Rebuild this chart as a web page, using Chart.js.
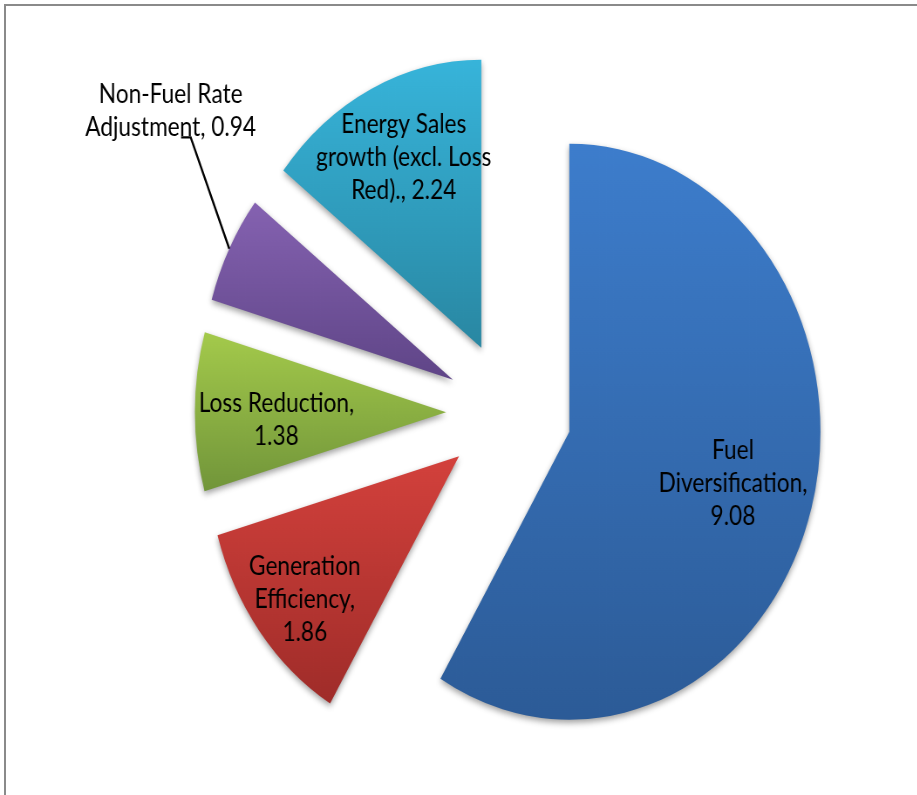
<!DOCTYPE html>
<html>
<head>
<meta charset="utf-8">
<script src="https://cdn.jsdelivr.net/npm/chart.js@4.4.0/dist/chart.umd.min.js"></script>
<style>
  html, body { margin: 0; padding: 0; background: #fff; overflow: hidden; }
  #frame {
    position: absolute; left: 4px; top: 4px; width: 960px; height: 830px;
    border-top: 2px solid #8a8a8a; border-left: 2px solid #8a8a8a;
  }
  /* the source picture is squeezed horizontally, so squeeze the canvas the same way */
  #wrap {
    position: absolute; left: 0; top: 0; width: 1052px; height: 795px;
    transform: scaleX(0.872); transform-origin: 0 0;
  }
  canvas { display: block; }
</style>
</head>
<body>
<div id="frame"></div>
<div id="wrap"><canvas id="chart" width="1052" height="795"></canvas></div>
<script>
const categories = [
  "Fuel Diversification",
  "Generation Efficiency",
  "Loss Reduction",
  "Non-Fuel Rate Adjustment",
  "Energy Sales growth (excl. Loss Red).",
];
const values = [9.08, 1.86, 1.38, 0.94, 2.24];

// Excel 2007 style gradients, top -> bottom of each slice
const topColors = ["#3d7dcc", "#d3413c", "#a4ca4b", "#8562b1", "#37b4da"];
const bottomColors = ["#2c5b97", "#9f2c29", "#71953a", "#5f4587", "#2987a2"];

const EXPLODE = 72;
const FONT = "26px Lato";
const LINE_HEIGHT = 33;

// label placement: distance (fraction of radius), turn from mid angle (deg), wrap width
const labelPlace = [
  { k: 0.676, turn: 0, width: 185 },
  { k: 0.79, turn: -1.5, width: 145 },
  { k: 0.676, turn: -2.5, width: 200 },
  { k: 1.46, turn: 12.6, width: 210, leader: true },
  { k: 0.73, turn: 1, width: 210 },
];

function wrapText(ctx, text, maxWidth) {
  const words = text.split(" ");
  const lines = [];
  let line = "";
  words.forEach((w) => {
    const test = line ? line + " " + w : w;
    if (line && ctx.measureText(test).width > maxWidth) {
      lines.push(line);
      line = w;
    } else {
      line = test;
    }
  });
  if (line) lines.push(line);
  return lines;
}

const explodePlugin = {
  id: "explode",
  afterDatasetsUpdate(chart) {
    const ctx = chart.ctx;
    chart.getDatasetMeta(0).data.forEach((arc, i) => {
      const mid = (arc.startAngle + arc.endAngle) / 2;
      arc.x += Math.cos(mid) * EXPLODE;
      arc.y += Math.sin(mid) * EXPLODE;

      // vertical extent of this slice for its gradient
      let top = arc.y;
      let bottom = arc.y;
      for (let t = 0; t <= 64; t++) {
        const a = arc.startAngle + ((arc.endAngle - arc.startAngle) * t) / 64;
        const y = arc.y + Math.sin(a) * arc.outerRadius;
        top = Math.min(top, y);
        bottom = Math.max(bottom, y);
      }
      const grad = ctx.createLinearGradient(0, top, 0, bottom);
      grad.addColorStop(0, topColors[i]);
      grad.addColorStop(1, bottomColors[i]);
      arc.options = Object.assign({}, arc.options, { backgroundColor: grad });
    });
  },
  beforeDatasetsDraw(chart) {
    const ctx = chart.ctx;
    ctx.save();
    ctx.shadowColor = "rgba(0, 0, 0, 0.38)";
    ctx.shadowBlur = 6;
    ctx.shadowOffsetY = 3;
  },
  afterDatasetsDraw(chart) {
    const ctx = chart.ctx;
    ctx.restore();

    ctx.save();
    ctx.font = FONT;
    ctx.fillStyle = "#000";
    ctx.textAlign = "center";
    ctx.textBaseline = "middle";
    chart.getDatasetMeta(0).data.forEach((arc, i) => {
      const place = labelPlace[i];
      const mid = (arc.startAngle + arc.endAngle) / 2;
      const ang = mid + (place.turn * Math.PI) / 180;
      const lx = arc.x + Math.cos(ang) * arc.outerRadius * place.k;
      const ly = arc.y + Math.sin(ang) * arc.outerRadius * place.k;

      const text = categories[i] + ", " + values[i].toFixed(2);
      const lines = wrapText(ctx, text, place.width);
      lines.forEach((line, j) => {
        ctx.fillText(line, lx, ly + (j - (lines.length - 1) / 2) * LINE_HEIGHT);
      });

      if (place.leader) {
        const ex = arc.x + Math.cos(mid) * arc.outerRadius;
        const ey = arc.y + Math.sin(mid) * arc.outerRadius;
        ctx.beginPath();
        ctx.strokeStyle = "#000";
        ctx.lineWidth = 2.4;
        ctx.moveTo(lx + 12, ly + 26);
        ctx.lineTo(lx + 23, ly + 26);
        ctx.lineTo(ex, ey);
        ctx.stroke();
      }
    });
    ctx.restore();
  },
};

new Chart(document.getElementById("chart"), {
  type: "pie",
  data: {
    labels: categories,
    datasets: [
      {
        data: values,
        backgroundColor: topColors,
        borderWidth: 0,
        radius: 288,
      },
    ],
  },
  options: {
    responsive: false,
    animation: false,
    events: [],
    layout: { padding: { left: 115, top: 30 } },
    plugins: {
      legend: { display: false },
      tooltip: { enabled: false },
    },
  },
  plugins: [explodePlugin],
});
</script>
</body>
</html>
